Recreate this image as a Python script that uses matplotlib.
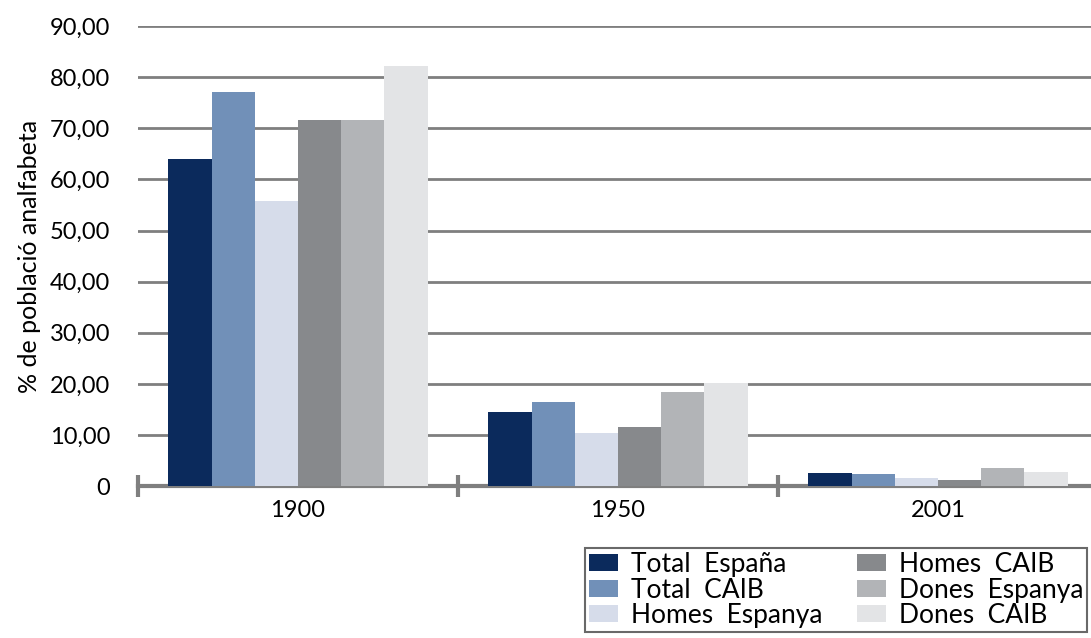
import numpy as np
import matplotlib
matplotlib.use('Agg')
import matplotlib.pyplot as plt

plt.rcParams['font.family'] = ['Lato', 'DejaVu Sans']

years = ['1900', '1950', '2001']
series = ['Total  España', 'Total  CAIB', 'Homes  Espanya',
          'Homes  CAIB', 'Dones  Espanya', 'Dones  CAIB']
total_espana = [64.0, 14.5, 2.6]
total_caib = [77.1, 16.4, 2.4]
homes_espanya = [55.8, 10.4, 1.6]
homes_caib = [71.6, 11.5, 1.2]
dones_espanya = [71.6, 18.4, 3.6]
dones_caib = [82.2, 20.1, 2.8]
values = [total_espana, total_caib, homes_espanya, homes_caib, dones_espanya, dones_caib]
colors = ['#0b2a5c', '#7190b8', '#d6dcea', '#87898c', '#b2b4b7', '#e3e4e6']

fig = plt.figure(figsize=(10.91, 6.38), dpi=100)
ax = fig.add_axes([0.1265, 0.238, 0.877, 0.721])

x = np.arange(len(years))
width = 0.135
for i, (name, vals, c) in enumerate(zip(series, values, colors)):
    ax.bar(x + (i - 2.5) * width, vals, width, color=c, label=name, zorder=3)

ax.set_ylim(0, 90)
ax.set_xlim(-0.5, 2.49)
yt = np.arange(0, 91, 10)
ax.set_yticks(yt)
ax.set_yticklabels(['0'] + [f'{v},00' for v in yt[1:]], fontsize=17)
ax.yaxis.grid(True, color='#7f7f7f', linewidth=2, zorder=0)
ax.tick_params(axis='y', length=0, pad=20)

ax.set_xticks(x)
ax.set_xticklabels(years, fontsize=17)
ax.tick_params(axis='x', length=0, pad=10)
ax.set_xticks([-0.5, 0.5, 1.5], minor=True)
ax.tick_params(axis='x', which='minor', length=16, width=3, color='#7f7f7f', direction='inout')

for s in ['top', 'right', 'left']:
    ax.spines[s].set_visible(False)
ax.spines['bottom'].set_color('#7f7f7f')
ax.spines['bottom'].set_linewidth(3)

ax.set_ylabel('% de població analfabeta', fontsize=18, labelpad=6)

leg = fig.legend(loc='upper left', bbox_to_anchor=(0.536, 0.141), ncol=2,
                 fontsize=19, frameon=True, fancybox=False, borderpad=0.15,
                 borderaxespad=0, labelspacing=0.02, handlelength=1.1,
                 handleheight=0.6, handletextpad=0.5, columnspacing=1.3)
leg.get_frame().set_edgecolor('#444444')
leg.get_frame().set_linewidth(1.5)

fig.savefig('out.png', dpi=100)
